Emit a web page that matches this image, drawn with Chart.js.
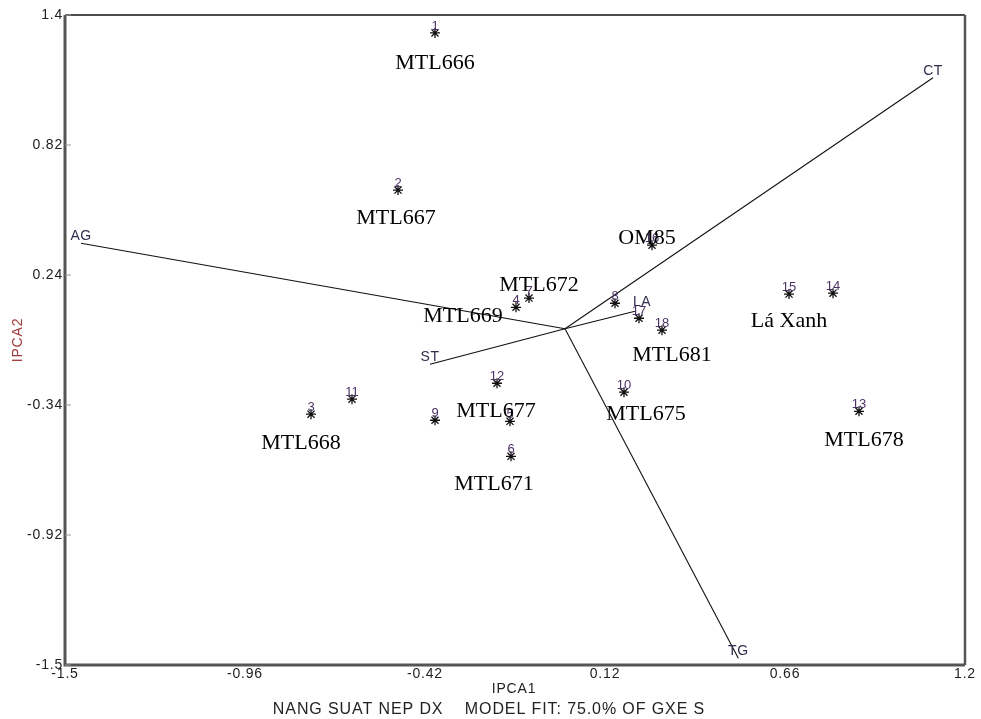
<!DOCTYPE html>
<html>
<head>
<meta charset="utf-8">
<script src="https://cdn.jsdelivr.net/npm/chart.js@4.4.0/dist/chart.umd.min.js"></script>
<style>
  html, body { margin: 0; padding: 0; background: #fff; }
  #wrap { width: 981px; height: 719px; }
</style>
</head>
<body>
<div id="wrap"><canvas id="biplot"></canvas></div>
<script>
// Genotype scores (IPCA1, IPCA2)
const genoIds = ['1', '2', '3', '4', '5', '6', '7', '8', '9', '10', '11', '12', '13', '14', '15', '16', '17', '18'];
const genoX = [-0.390, -0.501, -0.762, -0.147, -0.165, -0.162, -0.108, 0.150, -0.390, 0.177, -0.639, -0.204, 0.882, 0.804, 0.672, 0.261, 0.222, 0.291];
const genoY = [1.320, 0.619, -0.381, 0.096, -0.413, -0.569, 0.137, 0.114, -0.408, -0.283, -0.314, -0.243, -0.368, 0.159, 0.155, 0.373, 0.047, -0.006];

// Genotype names written on the plot
const nameText = ['MTL666', 'MTL667', 'OM85', 'MTL672', 'MTL669', 'Lá Xanh', 'MTL681', 'MTL677', 'MTL675', 'MTL668', 'MTL678', 'MTL671'];
const nameX = [-0.390, -0.507, 0.246, -0.078, -0.306, 0.672, 0.321, -0.207, 0.243, -0.792, 0.897, -0.213];
const nameY = [1.186, 0.494, 0.405, 0.195, 0.057, 0.035, -0.117, -0.367, -0.380, -0.510, -0.496, -0.693];

// Environment vectors
const envIds = ['AG', 'CT', 'ST', 'LA', 'TG'];
const envX = [-1.452, 1.104, -0.405, 0.210, 0.520];
const envY = [0.382, 1.120, -0.158, 0.078, -1.470];

const xTicks = [-1.5, -0.96, -0.42, 0.12, 0.66, 1.2];
const yTicks = [-1.5, -0.92, -0.34, 0.24, 0.82, 1.4];

const sans = '"Liberation Sans", Arial, sans-serif';
const serif = '"Liberation Serif", "Times New Roman", serif';

const genoPoints = genoX.map((x, i) => ({ x: x, y: genoY[i] }));

const envSets = envIds.map((id, i) => ({
    label: id,
    data: [{ x: 0, y: 0 }, { x: envX[i], y: envY[i] }],
    showLine: true,
    borderColor: '#111',
    borderWidth: 1.1,
    pointRadius: 0,
    fill: false
}));

// a bit of letter spacing for the small sans labels
const spacingPlugin = {
    id: 'spacing',
    beforeDraw(chart) {
        chart.ctx.letterSpacing = '0.8px';
    }
};

const textPlugin = {
    id: 'biplotText',
    afterDraw(chart) {
        const ctx = chart.ctx;
        const xs = chart.scales.x;
        const ys = chart.scales.y;
        const a = chart.chartArea;
        ctx.save();

        // frame
        ctx.strokeStyle = '#111';
        ctx.lineWidth = 1.5;
        ctx.beginPath();
        ctx.moveTo(a.left, a.top);
        ctx.lineTo(a.right, a.top);
        ctx.stroke();
        ctx.strokeStyle = '#555';
        ctx.lineWidth = 2.5;
        ctx.beginPath();
        ctx.moveTo(a.right, a.top);
        ctx.lineTo(a.right, a.bottom);
        ctx.stroke();
        ctx.lineWidth = 3;
        ctx.beginPath();
        ctx.moveTo(a.left, a.top);
        ctx.lineTo(a.left, a.bottom);
        ctx.lineTo(a.right, a.bottom);
        ctx.stroke();

        // small tick marks on the y axis
        ctx.strokeStyle = '#999';
        ctx.lineWidth = 1;
        yTicks.forEach(v => {
            const py = ys.getPixelForValue(v);
            ctx.beginPath();
            ctx.moveTo(a.left, py);
            ctx.lineTo(a.left + 6, py);
            ctx.stroke();
        });

        ctx.textAlign = 'center';
        ctx.textBaseline = 'middle';

        // genotype numbers
        ctx.letterSpacing = '0px';
        ctx.fillStyle = '#4b3266';
        ctx.font = '13px ' + sans;
        genoIds.forEach((id, i) => {
            ctx.fillText(id, xs.getPixelForValue(genoX[i]), ys.getPixelForValue(genoY[i]) - 7);
        });

        // environment labels
        ctx.letterSpacing = '0.5px';
        ctx.fillStyle = '#2e2e4e';
        ctx.font = '14px ' + sans;
        envIds.forEach((id, i) => {
            let px = xs.getPixelForValue(envX[i]);
            let py = ys.getPixelForValue(envY[i]) - 7;
            if (id === 'LA') { px += 7; py -= 2; }
            ctx.fillText(id, px, py);
        });

        // genotype names
        ctx.letterSpacing = '0px';
        ctx.fillStyle = '#000';
        ctx.font = '22px ' + serif;
        nameText.forEach((t, i) => {
            ctx.fillText(t, xs.getPixelForValue(nameX[i]), ys.getPixelForValue(nameY[i]));
        });

        // axis titles and footer
        ctx.fillStyle = '#222';
        ctx.letterSpacing = '0.8px';
        ctx.font = '14px ' + sans;
        ctx.fillText('IPCA1', 514, 689);
        ctx.letterSpacing = '0.9px';
        ctx.font = '16px ' + sans;
        ctx.fillText('NANG SUAT NEP DX    MODEL FIT: 75.0% OF GXE S', 489, 710);

        ctx.translate(18, 340);
        ctx.rotate(-Math.PI / 2);
        ctx.fillStyle = '#a03a3a';
        ctx.letterSpacing = '0.8px';
        ctx.font = '14px ' + sans;
        ctx.fillText('IPCA2', 0, 0);
        ctx.restore();
    }
};

new Chart(document.getElementById('biplot'), {
    type: 'scatter',
    data: {
        datasets: [{
            label: 'Genotypes',
            data: genoPoints,
            pointStyle: 'star',
            pointRadius: 5,
            borderColor: '#111',
            backgroundColor: '#111',
            borderWidth: 1.3
        }, ...envSets]
    },
    options: {
        responsive: true,
        maintainAspectRatio: false,
        animation: false,
        layout: {
            padding: { top: 15, right: 16, left: 0, bottom: 0 }
        },
        scales: {
            x: {
                min: -1.5,
                max: 1.2,
                afterBuildTicks: s => { s.ticks = xTicks.map(v => ({ value: v })); },
                afterFit: s => { s.height = 54; },
                grid: { display: false, drawTicks: false },
                border: { display: false },
                ticks: {
                    padding: 1,
                    color: '#222',
                    font: { family: sans, size: 14 },
                    maxRotation: 0,
                    callback: v => String(Math.round(v * 100) / 100)
                }
            },
            y: {
                min: -1.5,
                max: 1.4,
                afterBuildTicks: s => { s.ticks = yTicks.map(v => ({ value: v })); },
                afterFit: s => { s.width = 65; },
                grid: { display: false, drawTicks: false },
                border: { display: false },
                ticks: {
                    padding: 2,
                    color: '#222',
                    font: { family: sans, size: 14 },
                    callback: v => String(Math.round(v * 100) / 100)
                }
            }
        },
        plugins: {
            legend: { display: false },
            tooltip: { enabled: false }
        }
    },
    plugins: [spacingPlugin, textPlugin]
});
</script>
</body>
</html>
